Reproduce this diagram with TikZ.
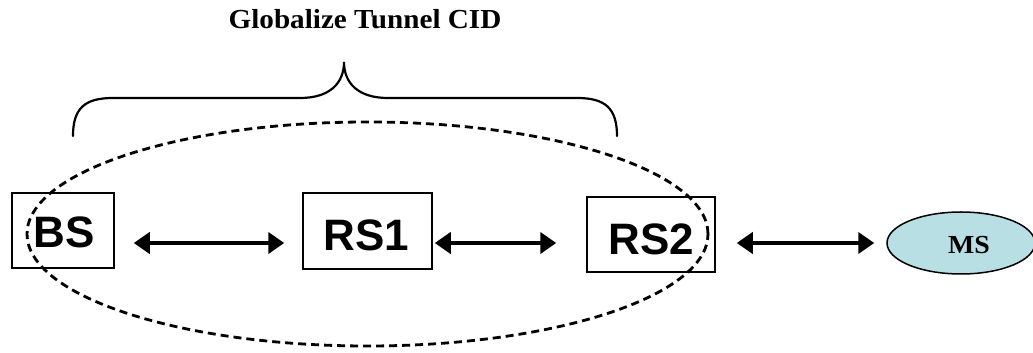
\documentclass[tikz,border=0pt]{standalone}
\usepackage{fontspec}
\setmainfont{Liberation Serif}
\newfontfamily\arialfont{Liberation Sans}
\usetikzlibrary{arrows.meta,shapes.geometric}
\definecolor{msfill}{RGB}{184,223,228}
\tikzset{
  x=1pt, y=1pt,
  stationbox/.style={draw=black, line width=1.5pt, inner sep=0pt, fill=none},
  stationtext/.style={font=\arialfont\bfseries\fontsize{44}{44}\selectfont, inner sep=0pt},
  biarrow/.style={line width=4pt, {Triangle[length=16pt,width=21pt]}-{Triangle[length=16pt,width=21pt]}},
  tunnel/.style={draw=black, line width=2.8pt, dash pattern=on 8pt off 5pt},
  bracestyle/.style={line width=2.2pt, line cap=round},
}
\begin{document}
\begin{tikzpicture}
\useasboundingbox (0,0) rectangle (1033,353);
% title
\node (title) at (365,334) {\scalebox{1.06}[1]{\fontsize{27.5}{28}\selectfont\bfseries Globalize Tunnel CID}};
% brace
\draw[bracestyle] (73,217) .. controls (73,245) and (85,255) .. (113,255) -- (300,255)
  .. controls (330,255) and (344,270) .. (344,291)
  .. controls (344,270) and (358,255) .. (388,255) -- (577,255)
  .. controls (605,255) and (617,245) .. (617,217);
% stations
\node[stationbox, minimum width=102pt, minimum height=75pt] (bs) at (63,122.5) {};
\node[stationbox, minimum width=129pt, minimum height=76pt] (rs1) at (367.5,122) {};
\node[stationbox, minimum width=128pt, minimum height=75pt] (rs2) at (651,118.5) {};
\node[stationtext] (bst) at (64,120.5) {BS};
\node[stationtext] (rs1t) at (366.5,118) {RS1};
\node[stationtext] (rs2t) at (651.5,114) {RS2};
% mobile station
\node[ellipse, draw=black, line width=1.5pt, fill=msfill, minimum width=148pt, minimum height=62pt, inner sep=0pt] (ms) at (961,110) {};
\node (mst) at (969,108) {\scalebox{1.07}[1]{\fontsize{26}{26}\selectfont\bfseries MS}};
% tunnel ellipse
\node[ellipse, tunnel, minimum width=681pt, minimum height=224pt, inner sep=0pt] (tun) at (367.5,119) {};
% links
\draw[biarrow] ([xshift=19pt,yshift=-12.5pt]bs.east) -- ([xshift=-18pt,yshift=-12pt]rs1.west);
\draw[biarrow] ([xshift=2pt,yshift=-12pt]rs1.east) -- ([xshift=-30pt,yshift=-8.5pt]rs2.west);
\draw[biarrow] ([xshift=21pt,yshift=-8.5pt]rs2.east) -- ([xshift=-12pt]ms.west);
\end{tikzpicture}
\end{document}
